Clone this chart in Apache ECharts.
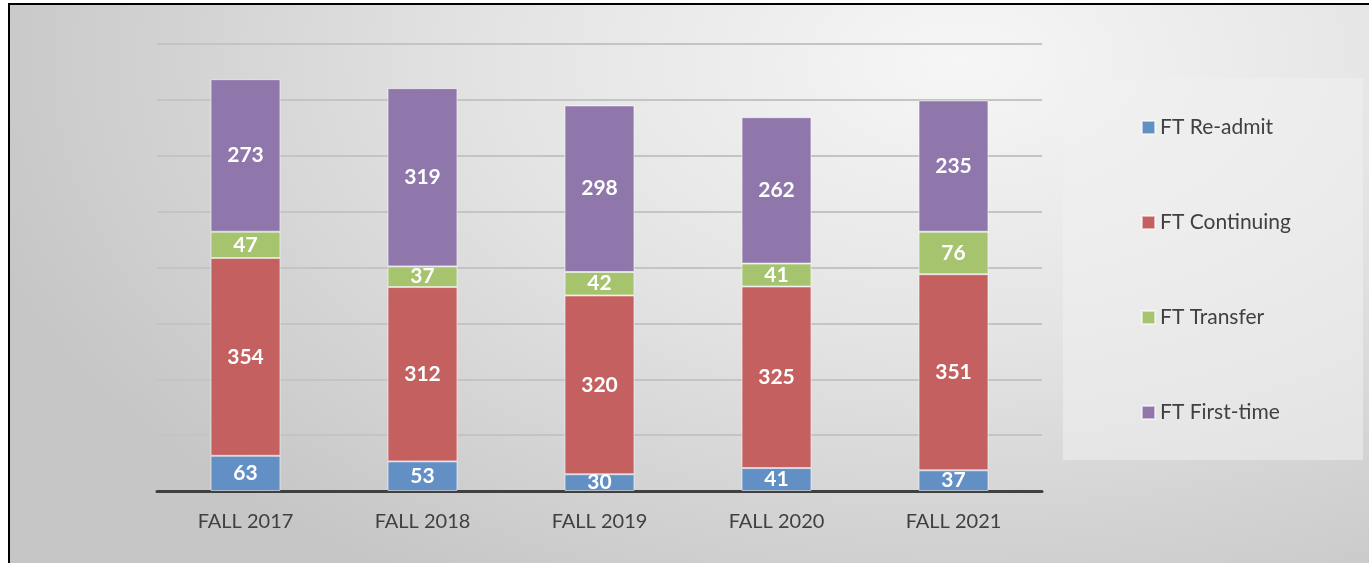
<!DOCTYPE html>
<html>
<head>
<meta charset="utf-8">
<script src="https://cdn.jsdelivr.net/npm/echarts@6/dist/echarts.min.js"></script>
<style>
html,body{margin:0;padding:0;background:#fff;}
#frame{position:absolute;left:8px;top:3px;width:1361px;height:560px;box-sizing:border-box;
border-left:2px solid #000;border-top:2px solid #000;
background:radial-gradient(ellipse 75% 110% at 70% 10%, #f6f6f6 0%, #e4e4e4 45%, #c6c6c6 100%);}
#chart{position:absolute;left:0;top:0;width:1369px;height:563px;}
</style>
</head>
<body>
<div id="frame"></div>
<div id="chart"></div>
<script>
const categories = ['FALL 2017','FALL 2018','FALL 2019','FALL 2020','FALL 2021'];
const readmit = [63, 53, 30, 41, 37];
const continuing = [354, 312, 320, 325, 351];
const transfer = [47, 37, 42, 41, 76];
const firstTime = [273, 319, 298, 262, 235];
const seriesNames = ['FT Re-admit','FT Continuing','FT Transfer','FT First-time'];
const colors = ['#628fc4','#c4605f','#a5c46d','#8f77ab'];

const chart = echarts.init(document.getElementById('chart'));
const font = 'Lato, "Open Sans", sans-serif';
function mk(name, data, color){
  return {
    name, type:'bar', stack:'total', data, barWidth:'39.5%',
    itemStyle:{color, borderColor:'rgba(255,255,255,0.55)', borderWidth:1},
    label:{show:true, position:'inside', color:'#fff', fontWeight:'bold', fontSize:21, fontFamily:font}
  };
}
chart.setOption({
  backgroundColor:'transparent',
  animation:false,
  graphic:[{type:'rect', z:-1, shape:{x:1063,y:78,width:300,height:382}, style:{fill:'rgba(240,240,240,0.55)'}}],
  grid:{left:157, right:327, top:44, bottom:72},
  legend:{
    orient:'vertical', left:1136, top:112, itemGap:74, itemWidth:13, itemHeight:13,
    icon:'rect', textStyle:{color:'#404040', fontSize:21, fontFamily:font},
    data:seriesNames
  },
  xAxis:{
    type:'category', data:categories,
    axisLine:{lineStyle:{color:'#404040', width:3}},
    axisTick:{show:false},
    axisLabel:{color:'#404040', fontSize:20, fontFamily:font, margin:21}
  },
  yAxis:{
    type:'value', min:0, max:800, interval:100,
    axisLabel:{show:false}, axisLine:{show:false}, axisTick:{show:false},
    splitLine:{lineStyle:{color:'#c4c4c4', width:2}}
  },
  series:[
    mk(seriesNames[0], readmit, colors[0]),
    mk(seriesNames[1], continuing, colors[1]),
    mk(seriesNames[2], transfer, colors[2]),
    mk(seriesNames[3], firstTime, colors[3])
  ]
});
</script>
</body>
</html>
